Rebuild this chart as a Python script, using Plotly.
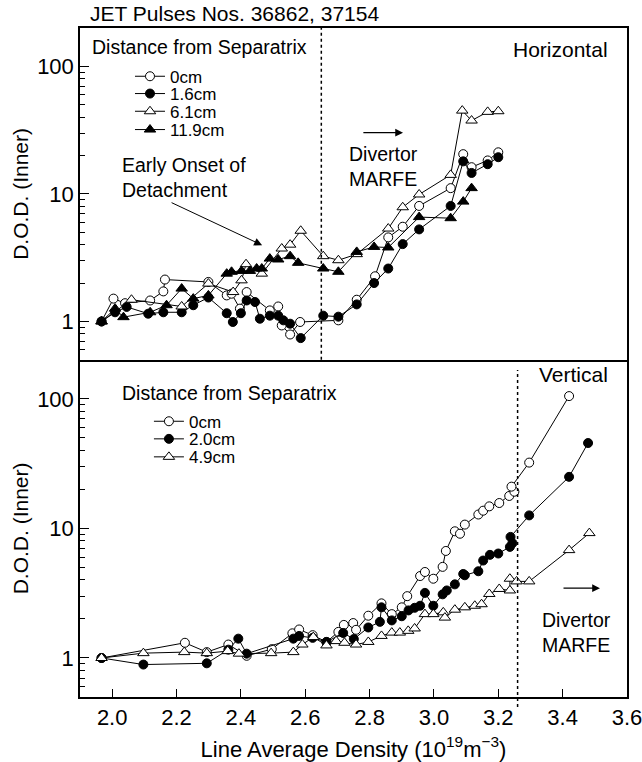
import numpy as np
import plotly.graph_objects as go

# ---------------- Horizontal (top panel) ----------------
h_x_0cm = [1.967, 2.004, 2.04, 2.118, 2.159, 2.164, 2.299, 2.356, 2.371, 2.397, 2.418, 2.49, 2.516, 2.527,
           2.553, 2.584, 2.703, 2.76, 2.817, 2.858, 2.903, 2.954, 3.052, 3.091, 3.117, 3.167, 3.2]
h_y_0cm = [1.0, 1.51, 1.39, 1.46, 1.72, 2.13, 2.04, 1.60, 1.65, 1.26, 1.70, 1.22, 1.31, 0.93,
           0.79, 0.99, 1.02, 1.48, 2.26, 4.56, 5.53, 8.05, 11.1, 20.5, 16.2, 18.3, 21.2]

h_x_16cm = [1.967, 2.009, 2.045, 2.112, 2.159, 2.216, 2.252, 2.299, 2.356, 2.375, 2.4, 2.418, 2.444, 2.459,
            2.49, 2.516, 2.532, 2.553, 2.586, 2.656, 2.703, 2.76, 2.814, 2.858, 2.903, 2.954, 3.052, 3.091,
            3.117, 3.167, 3.2]
h_y_16cm = [1.0, 1.18, 1.30, 1.15, 1.18, 1.18, 1.34, 1.54, 1.16, 0.99, 1.16, 1.46, 1.42, 1.05,
            1.11, 1.11, 1.02, 0.96, 0.74, 1.11, 1.09, 1.36, 2.0, 2.6, 4.04, 5.27, 8.05, 18.0,
            14.6, 17.1, 19.4]

h_x_61cm = [1.967, 2.06, 2.216, 2.299, 2.376, 2.402, 2.416, 2.465, 2.527, 2.553, 2.586, 2.656, 2.703, 2.76,
            2.858, 2.903, 2.954, 3.052, 3.088, 3.117, 3.167, 3.2]
h_y_61cm = [1.0, 1.48, 1.31, 1.98, 1.70, 2.10, 2.81, 2.37, 3.73, 4.0, 5.14, 3.25, 3.02, 3.37,
            5.35, 7.86, 9.9, 14.1, 45.0, 37.6, 44.0, 44.5]

h_x_119cm = [1.967, 2.009, 2.035, 2.118, 2.169, 2.216, 2.252, 2.299, 2.356, 2.371, 2.402, 2.428, 2.449, 2.465,
             2.49, 2.516, 2.553, 2.578, 2.656, 2.703, 2.76, 2.814, 2.858, 2.954, 3.052, 3.091, 3.117]
h_y_119cm = [1.0, 1.26, 1.08, 1.18, 1.34, 1.81, 1.51, 1.60, 2.37, 2.45, 2.49, 2.49, 2.6, 2.6,
             3.11, 3.06, 3.25, 2.88, 2.6, 2.45, 3.51, 3.84, 3.8, 6.58, 6.45, 8.7, 11.1]

# ---------------- Vertical (bottom panel) ----------------
v_x_0cm = [1.967, 2.226, 2.294, 2.361, 2.418, 2.496, 2.56, 2.581, 2.623, 2.666, 2.703, 2.72, 2.749, 2.758,
           2.796, 2.837, 2.869, 2.9, 2.917, 2.957, 2.972, 2.998, 3.027, 3.037, 3.065, 3.081, 3.096, 3.138,
           3.153, 3.172, 3.203, 3.234, 3.25, 3.241, 3.296, 3.42]
v_y_0cm = [1.0, 1.31, 1.11, 1.27, 1.04, 1.17, 1.55, 1.66, 1.50, 1.33, 1.59, 1.80, 1.86, 1.65,
           2.12, 2.64, 2.18, 2.46, 3.0, 4.29, 4.61, 4.09, 5.05, 6.7, 9.5, 9.1, 10.7, 12.8,
           13.7, 14.8, 15.7, 17.8, 19.2, 21.0, 32.2, 105.0]

v_x_20cm = [1.967, 2.097, 2.294, 2.361, 2.392, 2.418, 2.563, 2.581, 2.623, 2.666, 2.718, 2.751, 2.796, 2.832,
            2.837, 2.869, 2.9, 2.921, 2.94, 2.957, 2.972, 2.998, 3.027, 3.04, 3.065, 3.091, 3.096, 3.138,
            3.153, 3.174, 3.2, 3.236, 3.244, 3.238, 3.296, 3.42, 3.479]
v_y_20cm = [1.0, 0.89, 0.91, 1.16, 1.41, 1.08, 1.41, 1.48, 1.43, 1.33, 1.56, 1.40, 1.72, 1.90,
            2.46, 1.95, 2.10, 2.33, 2.44, 2.53, 3.18, 2.53, 3.10, 3.32, 3.70, 4.45, 4.35, 4.67,
            5.65, 6.25, 6.4, 7.2, 7.7, 8.6, 12.6, 25.0, 45.6]

v_x_49cm = [1.967, 2.097, 2.224, 2.294, 2.359, 2.394, 2.494, 2.563, 2.591, 2.625, 2.666, 2.696, 2.722, 2.758,
            2.796, 2.837, 2.869, 2.894, 2.92, 2.94, 2.972, 2.998, 3.029, 3.034, 3.065, 3.096, 3.127, 3.148,
            3.172, 3.203, 3.236, 3.236, 3.257, 3.296, 3.42, 3.483]
v_y_49cm = [1.0, 1.09, 1.11, 1.09, 1.13, 1.08, 1.09, 1.11, 1.27, 1.45, 1.25, 1.35, 1.31, 1.27,
            1.33, 1.48, 1.57, 1.57, 1.62, 1.69, 2.18, 2.18, 2.25, 2.05, 2.36, 2.46, 2.53, 2.60,
            3.12, 3.41, 3.32, 4.09, 3.90, 3.90, 6.8, 9.2]

x_tick_vals = [2.0, 2.2, 2.4, 2.6, 2.8, 3.0, 3.2, 3.4, 3.6]
x_tick_text = ["2.0", "2.2", "2.4", "2.6", "2.8", "3.0", "3.2", "3.4", "3.6"]
y_tick_vals = [1, 10, 100]
y_tick_text = ["1", "10", "100"]

FONT = "Liberation Sans, Arial, sans-serif"

fig = go.Figure()


def add(x, y, name, symbol, fill, xa, ya, legend, size):
    fig.add_trace(go.Scatter(
        x=x, y=y, mode="lines+markers", name=name,
        line=dict(color="black", width=1),
        marker=dict(symbol=symbol, size=size, color=fill, line=dict(color="black", width=1)),
        xaxis=xa, yaxis=ya, legend=legend, showlegend=True,
    ))


add(h_x_0cm, h_y_0cm, "0cm", "circle", "white", "x2", "y2", "legend", 9)
add(h_x_16cm, h_y_16cm, "1.6cm", "circle", "black", "x2", "y2", "legend2", 9)
add(h_x_61cm, h_y_61cm, "6.1cm", "triangle-up", "white", "x2", "y2", "legend3", 10)
add(h_x_119cm, h_y_119cm, "11.9cm", "triangle-up", "black", "x2", "y2", "legend4", 10)

add(v_x_0cm, v_y_0cm, "0cm", "circle", "white", "x", "y", "legend5", 9)
add(v_x_20cm, v_y_20cm, "2.0cm", "circle", "black", "x", "y", "legend6", 9)
add(v_x_49cm, v_y_49cm, "4.9cm", "triangle-up", "white", "x", "y", "legend7", 10)

minor_vals = [0.5, 0.6, 0.7, 0.8, 0.9] + [v for d in (1, 10, 100) for v in [d * k for k in range(2, 10)]] + [200]

yaxis_common = dict(
    type="log", range=[np.log10(0.5), np.log10(200)],
    tickmode="array", tickvals=y_tick_vals, ticktext=y_tick_text,
    ticks="inside", ticklen=9, tickwidth=1, tickcolor="black",
    minor=dict(tickmode="array", tickvals=minor_vals, ticks="inside", ticklen=5, tickcolor="black", showgrid=False),
    showline=True, linecolor="black", linewidth=1.5, mirror=True,
    showgrid=False, zeroline=False, automargin=False,
    tickfont=dict(family=FONT, size=22, color="black"),
    title=dict(text="D.O.D. (Inner)", font=dict(family=FONT, size=21, color="black"), standoff=3),
)


def leg(xp, ypix):
    return dict(x=xp, y=1 - (ypix - 28) / 669.0, xanchor="left", yanchor="middle",
                bgcolor="rgba(0,0,0,0)", font=dict(family=FONT, size=17, color="black"),
                itemwidth=30, tracegroupgap=0, borderwidth=0)


fig.update_layout(
    width=642, height=762,
    margin=dict(l=80, r=15, t=28, b=65),
    paper_bgcolor="white", plot_bgcolor="white",
    font=dict(family=FONT, color="black"),
    xaxis=dict(
        domain=[0, 1], anchor="y", range=[1.9, 3.6],
        tickmode="array", tickvals=x_tick_vals, ticktext=x_tick_text,
        ticks="inside", ticklen=8, tickcolor="black",
        showline=True, linecolor="black", linewidth=1.5, mirror=False,
        showgrid=False, zeroline=False, ticklabeloverflow="allow", automargin=False,
        tickfont=dict(family=FONT, size=22, color="black"),
        title=dict(text="Line Average Density (10<sup>19</sup>m<sup>\u22123</sup>)",
                   font=dict(family=FONT, size=22, color="black"), standoff=12),
    ),
    xaxis2=dict(
        domain=[0, 1], anchor="y2", range=[1.9, 3.6], matches="x",
        showticklabels=False, ticks="",
        showline=True, linecolor="black", linewidth=1.5, mirror=True,
        showgrid=False, zeroline=False,
    ),
    yaxis=dict(domain=[0, 0.504], anchor="x", **yaxis_common),
    yaxis2=dict(domain=[0.504, 1], anchor="x2", **yaxis_common),
    legend=leg(0.0914, 76.7),
    legend2=leg(0.0914, 94.0),
    legend3=leg(0.0914, 111.7),
    legend4=leg(0.0914, 130.0),
    legend5=leg(0.126, 421.7),
    legend6=leg(0.126, 439.3),
    legend7=leg(0.126, 457.3),
    showlegend=True,
)

# dotted vertical lines
fig.add_shape(type="line", x0=2.65, x1=2.65, xref="x2", y0=0, y1=1, yref="y2 domain",
              line=dict(color="black", width=1.5, dash="dot"))
fig.add_shape(type="line", x0=3.26, x1=3.26, xref="x", y0=-0.03, y1=0.97, yref="y domain",
              line=dict(color="black", width=1.5, dash="dot"))

afont = dict(family=FONT, size=19.5, color="black")
bigfont = dict(family=FONT, size=21, color="black")

# title
fig.add_annotation(text="JET Pulses Nos. 36862, 37154", xref="paper", yref="paper",
                   x=0.0146, y=1.021, xanchor="left", yanchor="middle", showarrow=False, font=bigfont)

# top panel annotations
fig.add_annotation(text="Distance from Separatrix", xref="x2", yref="y2", x=1.931, y=2.15,
                   xanchor="left", yanchor="middle", showarrow=False, font=afont)
fig.add_annotation(text="Horizontal", xref="x2", yref="y2", x=3.547, y=2.134,
                   xanchor="right", yanchor="middle", showarrow=False, font=bigfont)
fig.add_annotation(text="Early Onset of<br>Detachment", xref="x2", yref="y2", x=2.024, y=1.13,
                   xanchor="left", yanchor="middle", align="left", showarrow=False, font=afont)
fig.add_annotation(text="Divertor<br>MARFE", xref="x2", yref="y2", x=2.73, y=1.213,
                   xanchor="left", yanchor="middle", align="left", showarrow=False, font=afont)
fig.add_annotation(text="", xref="x2", yref="y2", x=2.466, y=0.598, axref="x2", ayref="y2",
                   ax=2.18, ay=0.937, showarrow=True, arrowhead=2, arrowsize=1.6, arrowwidth=1,
                   arrowcolor="black")
fig.add_annotation(text="", xref="x2", yref="y2", x=2.904, y=1.48, axref="x2", ayref="y2",
                   ax=2.776, ay=1.48, showarrow=True, arrowhead=2, arrowsize=1.3, arrowwidth=1.2,
                   arrowcolor="black")

# bottom panel annotations
fig.add_annotation(text="Distance from Separatrix", xref="x", yref="y", x=2.024, y=2.047,
                   xanchor="left", yanchor="middle", showarrow=False, font=afont)
fig.add_annotation(text="Vertical", xref="x", yref="y", x=3.547, y=2.1875,
                   xanchor="right", yanchor="middle", showarrow=False, font=bigfont)
fig.add_annotation(text="Divertor<br>MARFE", xref="x", yref="y", x=3.33, y=0.195,
                   xanchor="left", yanchor="middle", align="left", showarrow=False, font=afont)
fig.add_annotation(text="", xref="x", yref="y", x=3.516, y=0.539, axref="x", ayref="y",
                   ax=3.398, ay=0.539, showarrow=True, arrowhead=2, arrowsize=1.3, arrowwidth=1.2,
                   arrowcolor="black")

fig.write_html("out.html")
